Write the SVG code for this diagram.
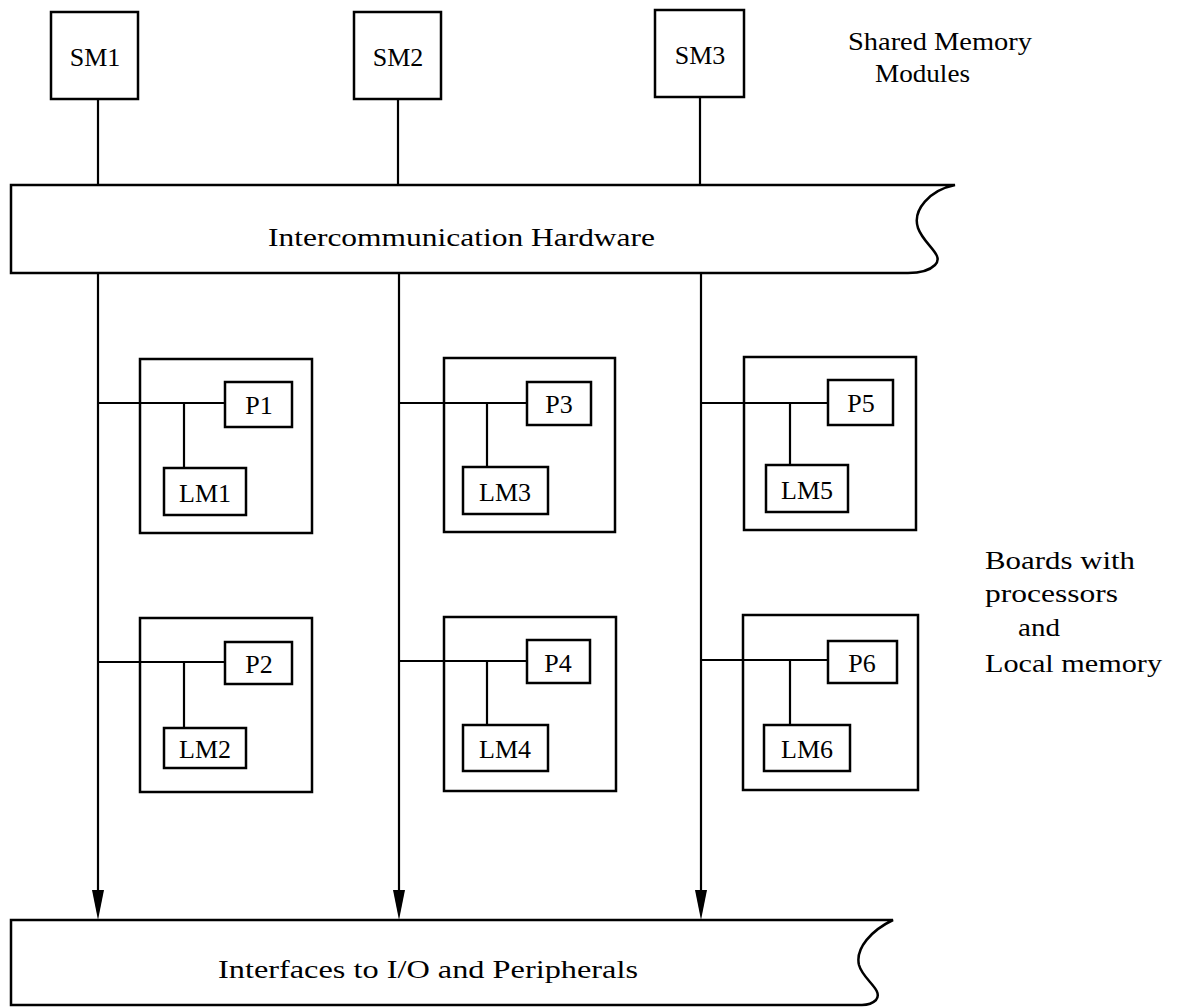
<svg xmlns="http://www.w3.org/2000/svg" width="1179" height="1007" viewBox="0 0 1179 1007">
<style>
.box{fill:#fff;stroke:#000;stroke-width:2.5}
.board{fill:none;stroke:#000;stroke-width:2.5}
.ln{fill:none;stroke:#000;stroke-width:2.2}
.t{font-family:"Liberation Serif","Times New Roman",serif;font-size:26px;fill:#000}
.c{text-anchor:middle}
</style>
<defs>
<path id="ah" d="M-6,-30 L6,-30 L0,0 Z" fill="#000"/>
</defs>
<rect width="1179" height="1007" fill="#fff"/>

<g id="board1"><rect class="board" x="140" y="359" width="172" height="174"/></g>
<g id="board3"><rect class="board" x="444" y="358" width="171" height="174"/></g>
<g id="board5"><rect class="board" x="744" y="357" width="172" height="173"/></g>
<g id="board2"><rect class="board" x="140" y="618" width="172" height="174"/></g>
<g id="board4"><rect class="board" x="444" y="617" width="172" height="174"/></g>
<g id="board6"><rect class="board" x="743" y="615" width="175" height="175"/></g>

<g id="connectors">
<line class="ln" x1="98" y1="99" x2="98" y2="185"/>
<line class="ln" x1="398" y1="99" x2="398" y2="185"/>
<line class="ln" x1="700" y1="97" x2="700" y2="185"/>
<path class="ln" d="M98,273 V892"/>
<path class="ln" d="M399,273 V892"/>
<path class="ln" d="M701,273 V892"/>
<use href="#ah" x="98" y="920"/>
<use href="#ah" x="399" y="920"/>
<use href="#ah" x="701" y="920"/>
<line class="ln" x1="98" y1="403" x2="225" y2="403"/>
<line class="ln" x1="184" y1="403" x2="184" y2="468"/>
<line class="ln" x1="399" y1="403" x2="527" y2="403"/>
<line class="ln" x1="487" y1="403" x2="487" y2="467"/>
<line class="ln" x1="701" y1="403" x2="828" y2="403"/>
<line class="ln" x1="790" y1="403" x2="790" y2="465"/>
<line class="ln" x1="98" y1="662" x2="225" y2="662"/>
<line class="ln" x1="184" y1="662" x2="184" y2="728"/>
<line class="ln" x1="399" y1="661" x2="527" y2="661"/>
<line class="ln" x1="487" y1="661" x2="487" y2="725"/>
<line class="ln" x1="701" y1="660" x2="828" y2="660"/>
<line class="ln" x1="790" y1="660" x2="790" y2="725"/>
</g>

<g id="SM1"><rect class="box" x="51" y="12" width="87" height="87"/><text class="t c" x="95" y="66">SM1</text></g>
<g id="SM2"><rect class="box" x="354" y="12" width="87" height="87"/><text class="t c" x="398" y="66">SM2</text></g>
<g id="SM3"><rect class="box" x="655" y="10" width="89" height="87"/><text class="t c" x="700" y="64">SM3</text></g>

<g id="label-shared">
<text class="t" x="848" y="50" textLength="184" lengthAdjust="spacingAndGlyphs">Shared Memory</text>
<text class="t" x="875" y="82" textLength="95" lengthAdjust="spacingAndGlyphs">Modules</text>
</g>

<g id="intercomm">
<path class="box" d="M11,185 H955 C930,190 912,210 918,228 C924,245 945,255 935,265 C928,272 918,273 908,273 H11 Z"/>
<text class="t" x="268" y="246" textLength="387" lengthAdjust="spacingAndGlyphs">Intercommunication Hardware</text>
</g>

<g id="P1"><rect class="box" x="225" y="382" width="67" height="45"/><text class="t c" x="259" y="414">P1</text></g>
<g id="LM1"><rect class="box" x="164" y="468" width="82" height="47"/><text class="t c" x="205" y="502">LM1</text></g>
<g id="P3"><rect class="box" x="527" y="382" width="64" height="43"/><text class="t c" x="559" y="413">P3</text></g>
<g id="LM3"><rect class="box" x="463" y="467" width="85" height="47"/><text class="t c" x="505" y="501">LM3</text></g>
<g id="P5"><rect class="box" x="828" y="380" width="65" height="45"/><text class="t c" x="861" y="412">P5</text></g>
<g id="LM5"><rect class="box" x="766" y="465" width="82" height="47"/><text class="t c" x="807" y="499">LM5</text></g>
<g id="P2"><rect class="box" x="225" y="642" width="67" height="42"/><text class="t c" x="259" y="673">P2</text></g>
<g id="LM2"><rect class="box" x="164" y="728" width="82" height="40"/><text class="t c" x="205" y="758">LM2</text></g>
<g id="P4"><rect class="box" x="527" y="640" width="63" height="43"/><text class="t c" x="558" y="672">P4</text></g>
<g id="LM4"><rect class="box" x="463" y="725" width="85" height="46"/><text class="t c" x="505" y="758">LM4</text></g>
<g id="P6"><rect class="box" x="828" y="641" width="69" height="42"/><text class="t c" x="862" y="672">P6</text></g>
<g id="LM6"><rect class="box" x="764" y="725" width="86" height="46"/><text class="t c" x="807" y="758">LM6</text></g>

<g id="label-boards">
<text class="t" x="985" y="569" textLength="150" lengthAdjust="spacingAndGlyphs">Boards with</text>
<text class="t" x="985" y="602" textLength="133" lengthAdjust="spacingAndGlyphs">processors</text>
<text class="t" x="1018" y="636" textLength="42" lengthAdjust="spacingAndGlyphs">and</text>
<text class="t" x="985" y="672" textLength="177" lengthAdjust="spacingAndGlyphs">Local memory</text>
</g>

<g id="interfaces">
<path class="box" d="M11,920 H893 C872,930 855,948 859,965 C863,980 884,990 876,1000 C872,1004 868,1005 862,1005 H11 Z"/>
<text class="t" x="218" y="978" textLength="420" lengthAdjust="spacingAndGlyphs">Interfaces to I/O and Peripherals</text>
</g>
</svg>
